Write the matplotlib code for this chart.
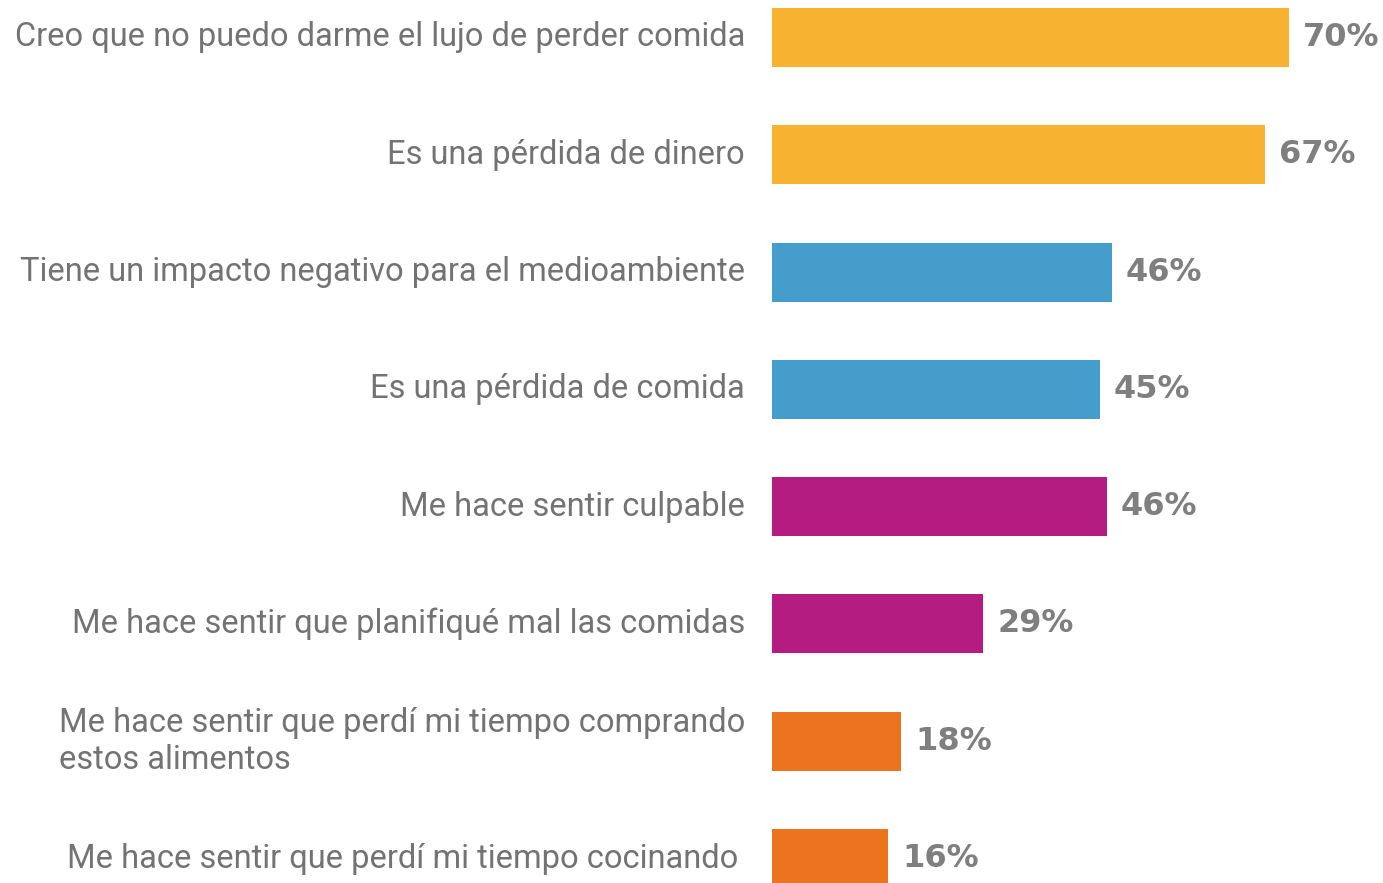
import matplotlib.pyplot as plt

# Data
categories = [
    "Creo que no puedo darme el lujo de perder comida",
    "Es una pérdida de dinero",
    "Tiene un impacto negativo para el medioambiente",
    "Es una pérdida de comida",
    "Me hace sentir culpable",
    "Me hace sentir que planifiqué mal las comidas",
    "Me hace sentir que perdí mi tiempo comprando\nestos alimentos",
    "Me hace sentir que perdí mi tiempo cocinando",
]
values = [70, 66.7, 46, 44.4, 45.3, 28.6, 17.5, 15.7]
value_labels = ["70%", "67%", "46%", "45%", "46%", "29%", "18%", "16%"]
colors = ["#F7B232", "#F7B232", "#459DCB", "#459DCB",
          "#B41C82", "#B41C82", "#ED741F", "#ED741F"]

W, H = 1383, 883
fig = plt.figure(figsize=(W / 100, H / 100), dpi=100)
fig.patch.set_facecolor("white")

left_px = 772
ax = fig.add_axes([left_px / W, 0, (W - left_px) / W, 1])
ax.axis("off")

ypos = list(range(len(categories)))
ax.barh(ypos, values, height=0.503, color=colors)

# pixel scale: ~7.39 px per percent, rows ~117.3 px apart
ax.set_xlim(0, (W - left_px) / 7.39)
ax.set_ylim(7 + (H - 858.5) / 117.3, -37.5 / 117.3)

for y, v, lab in zip(ypos, values, value_labels):
    ax.annotate(lab, (v, y), xytext=(10, 0), textcoords="offset points",
                ha="left", va="center", fontsize=23, fontweight="bold",
                color="#7F7F7F", family="DejaVu Sans")

for i, (y, cat) in enumerate(zip(ypos, categories)):
    dx = -24.5 if i == len(categories) - 1 else -19.5
    ax.annotate(cat, (0, y), xytext=(dx, 0), textcoords="offset points",
                ha="right", va="center", fontsize=23.5, color="#737373",
                family="Roboto", multialignment="left", annotation_clip=False)

fig.savefig("out.png", dpi=100)
